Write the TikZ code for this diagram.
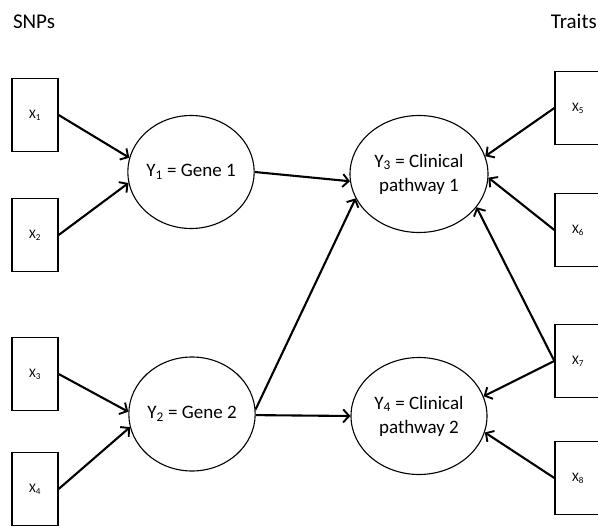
\documentclass[tikz,border=0pt]{standalone}
\usepackage{fontspec}
\setmainfont{Carlito}
\usetikzlibrary{shapes.geometric,arrows.meta}
\begin{document}
\begin{tikzpicture}[x=1pt,y=-1pt,
  box/.style={draw,line width=1.3pt,minimum width=46pt,minimum height=73pt,inner sep=0pt,font=\fontsize{13}{14}\selectfont},
  latent/.style={draw,ellipse,line width=1.1pt,inner sep=0pt,font=\fontsize{19}{24}\selectfont,align=center},
  arr/.style={line width=2.1pt,-{Straight Barb[length=6pt,width=13pt,line width=1.9pt]}},
  hdr/.style={font=\fontsize{21}{23}\selectfont,inner sep=0pt}]
\useasboundingbox (0,0) rectangle (598,527);
\clip (0,0) rectangle (598,527);
% headers
\node[hdr,anchor=base] (snps) at (34,29) {SNPs};
\node[hdr,anchor=base east] (traits) at (597,29) {Traits};
% left boxes
\node[box] (x1) at (35,115) {X\textsubscript{1}};
\node[box] (x2) at (35,235) {X\textsubscript{2}};
\node[box] (x3) at (35,374) {X\textsubscript{3}};
\node[box] (x4) at (35,489) {X\textsubscript{4}};
% right boxes
\node[box] (x5) at (578,108) {X\textsubscript{5}};
\node[box] (x6) at (578,230) {X\textsubscript{6}};
\node[box] (x7) at (578,361) {X\textsubscript{7}};
\node[box] (x8) at (578,478) {X\textsubscript{8}};
% ellipses
\node[latent,minimum width=122pt,minimum height=113pt] (y1) at (191,172) {Y\textsubscript{1} = Gene 1};
\node[latent,minimum width=120pt,minimum height=114pt] (y2) at (192,414) {Y\textsubscript{2} = Gene 2};
\node[latent,minimum width=138pt,minimum height=117pt] (y3) at (419,174) {Y\textsubscript{3} = Clinical\\pathway 1};
\node[latent,minimum width=136pt,minimum height=117pt] (y4) at (419,416) {Y\textsubscript{4} = Clinical\\pathway 2};
% arrows
\draw[arr] (x1.east) -- (y1.167);
\draw[arr] (x2.east) -- (y1.190);
\draw[arr] (x3.east) -- (y2.178);
\draw[arr] (x4.east) -- (y2.192);
\draw[arr] (y1.0) -- (y3.186);
\draw[arr] (y2.4) -- (y3.201);
\draw[arr] (y2.359) -- (y4.180);
\draw[arr] (x5.west) -- (y3.15);
\draw[arr] (x6.west) -- (y3.357);
\draw[arr] (x7.west) -- (y3.330);
\draw[arr] (x7.west) -- (y4.17);
\draw[arr] (x8.west) -- (y4.346);
\end{tikzpicture}
\end{document}
